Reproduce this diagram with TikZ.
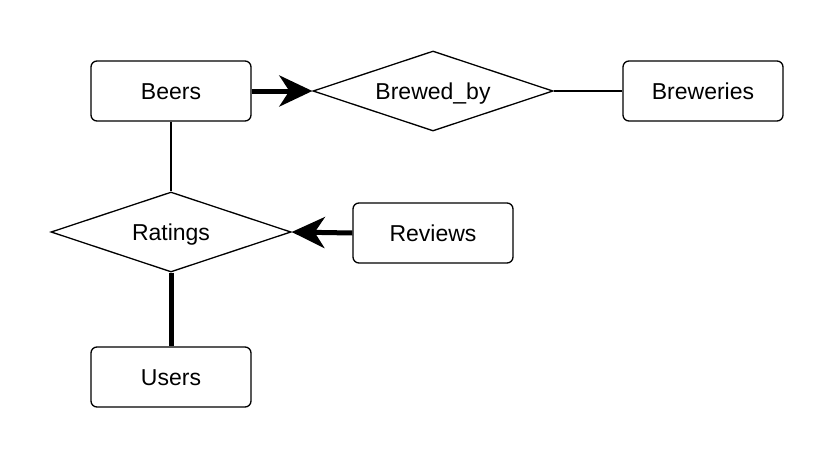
\documentclass[tikz,border=0pt]{standalone}
\usepackage{fontspec}
\setmainfont{Liberation Sans}
\usetikzlibrary{shapes.geometric,arrows.meta}
\tikzset{
	entity/.style={draw, rounded corners=6pt, minimum width=160pt, minimum height=60pt, line width=1.3pt},
	relation/.style={draw, diamond, aspect=3, minimum width=240pt, minimum height=80pt, inner sep=0pt, line width=1.3pt},
	thinlink/.style={line width=1.3pt},
	thicklink/.style={line width=5pt},
	thickarrow/.style={line width=5pt, -{Stealth[length=33pt, width=31pt, inset=10pt]}}
}
\begin{document}
\begin{tikzpicture}[x=1pt, y=-1pt, every node/.style={font=\fontsize{23}{27}\selectfont, text height=19pt, text depth=3pt}]
	\useasboundingbox (0,0) rectangle (834,458);
%	\coordinate (    ) at (X    , Y    );
	\coordinate (c-beers)     at (171, 91);
	\coordinate (c-brewed)    at (433, 91);
	\coordinate (c-breweries) at (703, 91);
	\coordinate (c-ratings)   at (171, 232);
	\coordinate (c-reviews)   at (433, 233);
	\coordinate (c-users)     at (171, 377);

	\node[entity]   (beers)     at (c-beers)     {Beers};
	\node[relation] (brewed)    at (c-brewed)    {Brewed\_by};
	\node[entity]   (breweries) at (c-breweries) {Breweries};
	\node[relation] (ratings)   at (c-ratings)   {Ratings};
	\node[entity]   (reviews)   at (c-reviews)   {Reviews};
	\node[entity]   (users)     at (c-users)     {Users};

	\draw[thickarrow] (beers.east) -- (brewed.west);
	\draw[thinlink] (brewed.east) -- (breweries.west);
	\draw[thinlink] (beers.south) -- (ratings.north);
	\draw[thickarrow] (reviews.west) -- (ratings.east);
	\draw[thicklink] (ratings.south) -- (users.north);
\end{tikzpicture}
\end{document}
